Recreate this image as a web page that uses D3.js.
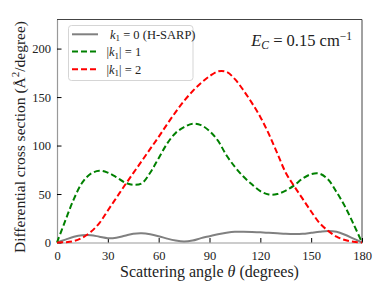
<!DOCTYPE html>
<html><head><meta charset="utf-8">
<script src="https://cdn.jsdelivr.net/npm/d3@7"></script>
<style>
body{margin:0;background:#fff;}
text{font-family:"Liberation Serif","Times New Roman",serif;}
</style></head>
<body><svg id="c" width="382" height="291"></svg>
<script>
const angles = d3.range(0, 181, 5);
const k0 = [0,3,6,7.5,7.5,6,4.5,5,7,9,9.5,8.5,6.5,4,2,1,2,4.5,6.5,8.5,10,11,11,10.8,10.5,10,9.5,9,8.8,9,10,11,11.8,11,8,4,0];
const k1 = [0,23,45,62,71,74,72,67.5,62,59.5,61,72,87,102,113,119,122.5,121,115,105,90,78,68,60,53,49.5,50,53.5,59,66,70.5,71,65,52,37,19,0];
const k2 = [0,0.3,1.5,5,11,20,33,46,59,71.5,84,96.5,109,122,134.5,146,156,164.5,171.5,176.5,176,168.5,157,144,129.5,112,92,72,58,45,32,20,12,6,2.5,0.7,0];
const xTicks = [0,30,60,90,120,150,180];
const yTicks = [0,50,100,150,200];
const seriesNames = ["k0","k1","k2"];

const svg = d3.select("#c");
const L=57, R=362, T=19.5, B=242.5;
const x = d3.scaleLinear().domain([0,180]).range([L,R]);
const y = d3.scaleLinear().domain([0,230]).range([B,T]);

// frame top/right
svg.append("path").attr("d",`M${L},${T}H${R}V${B}`).attr("fill","none").attr("stroke","#444").attr("stroke-width",1);

// axes
const gx = svg.append("g").attr("transform",`translate(0,${B})`)
  .call(d3.axisBottom(x).tickValues(xTicks).tickSizeInner(-4.5).tickSizeOuter(0).tickPadding(9));
const gy = svg.append("g").attr("transform",`translate(${L},0)`)
  .call(d3.axisLeft(y).tickValues(yTicks).tickSizeInner(-4.5).tickSizeOuter(0).tickPadding(6));
[gx,gy].forEach(g=>{
  g.select(".domain").attr("stroke","#999").attr("stroke-width",1.2);
  g.selectAll(".tick line").attr("stroke","#000");
  g.selectAll(".tick text").attr("font-size",12.5).attr("fill","#222").attr("font-family","Liberation Serif, serif");
});

const line = d3.line().x((d,i)=>x(angles[i])).y(d=>y(Math.max(0,d))).curve(d3.curveCatmullRom.alpha(0.5));
const styles = {
  k0:{data:k0,color:"#808080",dash:null},
  k1:{data:k1,color:"#008000",dash:"6,3"},
  k2:{data:k2,color:"#ff0000",dash:"6,3"}
};
seriesNames.forEach(n=>{
  const s=styles[n];
  svg.append("path").attr("d",line(s.data)).attr("fill","none")
    .attr("stroke",s.color).attr("stroke-width",2).attr("stroke-dasharray",s.dash);
});

// legend
const lg = svg.append("g");
lg.append("rect").attr("x",68.5).attr("y",25.5).attr("width",124.5).attr("height",55).attr("rx",3)
  .attr("fill","#fff").attr("fill-opacity",0.8).attr("stroke","#d5d5d5");
const rows=[34.3,51.5,69.3];
seriesNames.forEach((n,i)=>{
  const s=styles[n];
  lg.append("line").attr("x1",72).attr("x2",98).attr("y1",rows[i]).attr("y2",rows[i])
    .attr("stroke",s.color).attr("stroke-width",2).attr("stroke-dasharray",s.dash);
});
function kLabel(xpos, ypos, parts){
  const tx = lg.append("text").attr("x",xpos).attr("y",ypos).attr("font-size",12.5).attr("fill","#222");
  parts.forEach(p=>{
    const ts = tx.append("tspan").text(p.t);
    if(p.i) ts.attr("font-style","italic");
    if(p.sub) ts.attr("font-size",9).attr("dy",2.5);
    if(p.up) ts.attr("dy",-2.5);
  });
}
kLabel(110,38.8,[{t:"k",i:1},{t:"1",sub:1},{t:" = 0 (H-SARP)",up:1}]);
kLabel(106.5,56,[{t:"|"},{t:"k",i:1},{t:"1",sub:1},{t:"| = 1",up:1}]);
kLabel(106.5,73.8,[{t:"|"},{t:"k",i:1},{t:"1",sub:1},{t:"| = 2",up:1}]);

// annotation
const an = svg.append("text").attr("x",352).attr("y",45.7).attr("text-anchor","end").attr("font-size",16.5).attr("fill","#222");
an.append("tspan").attr("font-style","italic").text("E");
an.append("tspan").attr("font-style","italic").attr("font-size",11.5).attr("dy",3).text("C");
an.append("tspan").attr("dy",-3).text(" = 0.15 cm");
an.append("tspan").attr("font-size",11.5).attr("dy",-6).text("\u22121");

// axis labels
const xl = svg.append("text").attr("x",(L+R)/2).attr("y",276.5).attr("text-anchor","middle").attr("font-size",16).attr("fill","#222");
xl.append("tspan").text("Scattering angle ");
xl.append("tspan").attr("font-style","italic").text("\u03b8");
xl.append("tspan").text(" (degrees)");

const yl = svg.append("text").attr("transform","translate(25,137) rotate(-90)").attr("text-anchor","middle").attr("font-size",15.5).attr("fill","#222");
yl.append("tspan").text("Differential cross section (\u00c5");
yl.append("tspan").attr("font-size",11).attr("dy",-6).text("2");
yl.append("tspan").attr("dy",6).text("/degree)");
</script></body></html>
